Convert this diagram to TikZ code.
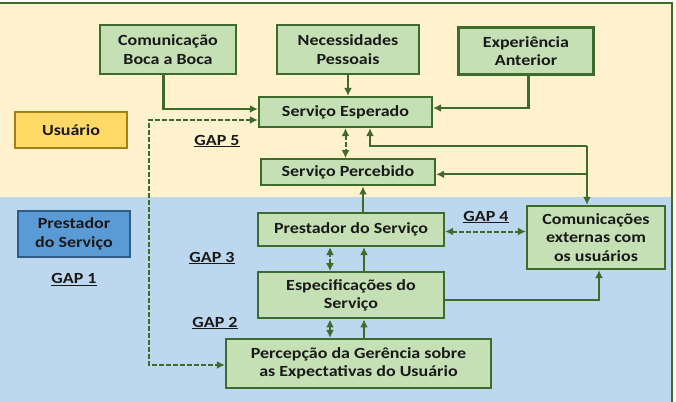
\documentclass[tikz,border=0pt]{standalone}
\usepackage{fontspec}
\setmainfont{Carlito}[FakeStretch=1.16]
\usetikzlibrary{arrows.meta,positioning,calc}
\definecolor{Creme}{RGB}{255,242,204}
\definecolor{AzulFundo}{RGB}{189,215,238}
\definecolor{VerdeClaro}{RGB}{197,224,180}
\definecolor{VerdeEscuro}{RGB}{61,107,43}
\definecolor{Ouro}{RGB}{255,217,102}
\definecolor{OuroEscuro}{RGB}{166,128,22}
\definecolor{AzulCaixa}{RGB}{91,155,213}
\definecolor{AzulEscuro}{RGB}{46,92,138}
\definecolor{Texto}{RGB}{25,25,25}
\newcommand{\fontediag}{\fontsize{15.5}{18.5}\selectfont\bfseries}
\tikzset{
  caixaverde/.style={draw=VerdeEscuro, line width=2.3pt, fill=VerdeClaro,
    align=center, minimum width=#1, font=\fontediag, text=Texto, inner sep=2pt},
  caixaverde/.default=174pt,
  setaverde/.style={-{Latex[length=8pt, width=8pt]}, line width=2.1pt, VerdeEscuro},
  gapseta/.style={{Latex[length=8pt, width=8pt]}-{Latex[length=8pt, width=8pt]},
    line width=2pt, VerdeEscuro, dash pattern=on 4.5pt off 2.5pt},
  gaptexto/.style={font=\fontediag, text=Texto, inner sep=1pt},
  % ---- caixas dos dois lados do modelo ----
  ladobox/.style={line width=2pt, align=center, minimum width=112pt,
    font=\fontediag, text=Texto, inner sep=2pt},
}

\begin{document}
\begin{tikzpicture}[x=1pt, y=-1pt]
  \useasboundingbox (0,0) rectangle (676,401);
  % fundo
  \fill[Creme] (-5,3) rectangle (672,197);
  \fill[AzulFundo] (-5,197) rectangle (672,410);
  \draw[VerdeEscuro, line width=2pt] (-5,3) rectangle (672,410);

  % lado do usuario
  \node[ladobox, draw=OuroEscuro, fill=Ouro, minimum height=36pt] (usuario) at (71,130) {Usuário};
  \node[caixaverde=136pt, minimum height=49pt] (boca) at (168,49.5) {Comunicação\\Boca a Boca};
  \node[caixaverde=142pt, minimum height=49pt] (necess) at (348,49.5) {Necessidades\\Pessoais};
  \node[caixaverde=135pt, minimum height=47pt] (exper) at (526,51) {Experiência\\Anterior};
  \node[caixaverde=173pt, minimum height=30pt] (esperado) at (345.5,112) {Serviço Esperado};
  \node[caixaverde=174pt, minimum height=26pt, below=30pt of esperado, xshift=2.5pt] (percebido) {Serviço Percebido};
  \node[gaptexto] (gap5) at (217,141) {\underline{GAP 5}};

  % lado do prestador
  \node[ladobox, draw=AzulEscuro, fill=AzulCaixa, minimum height=46pt] (prestlbl) at (74,234) {Prestador\\do Serviço};
  \node[gaptexto, below=14pt of prestlbl] (gap1) {\underline{GAP 1}};
  \node[caixaverde=186pt, minimum height=33pt] (prestador) at (351,229.5) {Prestador do Serviço};
  \node[caixaverde=186pt, minimum height=46pt, below=24pt of prestador] (especif) {Especificações do\\Serviço};
  \node[caixaverde=265pt, minimum height=49pt] (percep) at (358.5,363.5) {Percepção da Gerência sobre\\as Expectativas do Usuário};
  \node[caixaverde=138pt, minimum height=63pt] (comunic) at (596,237.5) {Comunicações\\externas com\\os usuários};
  \node[gaptexto] (gap4) at (486,217) {\underline{GAP 4}};
  \node[gaptexto] (gap3) at (212,258) {\underline{GAP 3}};
  \node[gaptexto] (gap2) at (215,323) {\underline{GAP 2}};

  \coordinate (canto) at (149,365);
  \coordinate (junta) at (587,146);

  % setas
  \draw[setaverde] ([xshift=-4.5pt]boca.south) |- ([yshift=3pt]esperado.west);
  \draw[setaverde] (necess.south) -- (necess.south |- esperado.north);
  \draw[setaverde] ([xshift=2.5pt]exper.south) |- ([yshift=4pt]esperado.east);
  \draw[gapseta] ([yshift=-8pt]esperado.west) -| (canto) -- (canto -| percep.west);
  \draw[gapseta] (esperado.south) -- (esperado.south |- percebido.north);
  \draw[setaverde] (junta) -| ([xshift=24.5pt]esperado.south);
  \draw[setaverde] (junta) -- (junta |- comunic.north);
  \draw[setaverde] ([yshift=-2pt]junta |- percebido.east) -- ([yshift=-2pt]percebido.east);
  \draw[setaverde] ([xshift=12pt]prestador.north) -- ([xshift=12pt]prestador.north |- percebido.south);
  \draw[gapseta] ([yshift=-2pt]prestador.east) -- ([yshift=-2pt]prestador.east -| comunic.west);
  \draw[gapseta] ([xshift=-21pt]especif.north) -- ([xshift=-21pt]especif.north |- prestador.south);
  \draw[setaverde] ([xshift=13pt]especif.north) -- ([xshift=13pt]especif.north |- prestador.south);
  \draw[setaverde] ([yshift=-5pt]especif.east) -| ([xshift=3pt]comunic.south);
  \draw[gapseta] ([xshift=-21pt]especif.south |- percep.north) -- ([xshift=-21pt]especif.south);
  \draw[setaverde] ([xshift=13pt]especif.south |- percep.north) -- ([xshift=13pt]especif.south);
\end{tikzpicture}
\end{document}
